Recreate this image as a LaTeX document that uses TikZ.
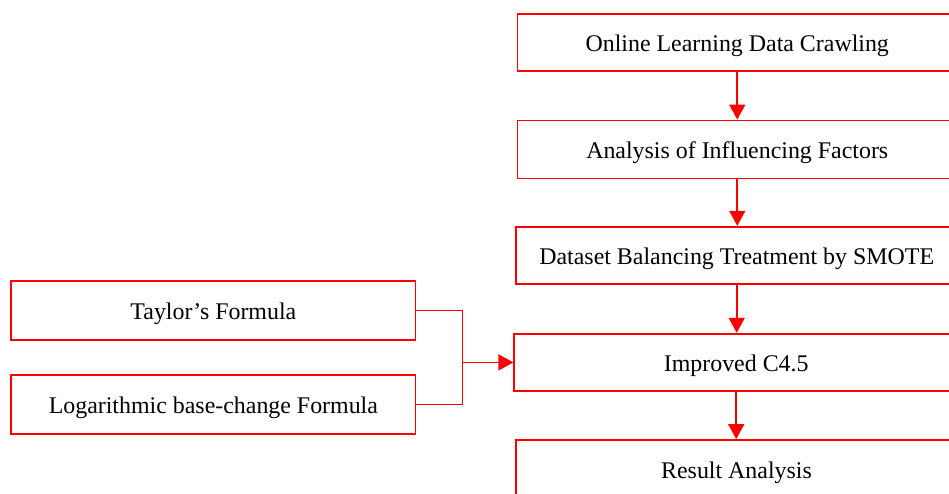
\documentclass[tikz,border=0pt]{standalone}
\usepackage{fontspec}
\setmainfont{Liberation Serif}
\usetikzlibrary{arrows.meta}
\begin{document}
\begin{tikzpicture}[x=1pt,y=-1pt,
  box/.style={draw=red, line width=1.8pt, fill=white, inner sep=0pt, anchor=center,
    text height=18.8pt, text depth=0pt,
    font=\fontsize{23.9}{28}\selectfont},
  conn/.style={draw=red, line width=1.6pt},
  arr/.style={conn, -{Triangle[width=16pt,length=15pt]}}]
\useasboundingbox (0,0) rectangle (949,494);
\begin{scope}
\clip (0,0) rectangle (949,494);
\node[box, minimum width=439.5pt, minimum height=57pt] (b1) at (737.25,42.5) {Online Learning Data Crawling};
\node[box, minimum width=439.5pt, minimum height=58pt] (b2) at (737.25,149.5) {Analysis of Influencing Factors};
\node[box, minimum width=442pt, minimum height=57.3pt] (b3) at (736.7,255.4) {Dataset Balancing Treatment by SMOTE};
\node[box, minimum width=443.8pt, minimum height=57.4pt] (b4) at (736.2,362.4) {Improved C4.5};
\node[box, minimum width=441.5pt, minimum height=58pt] (b5) at (736.5,469) {Result Analysis};
\node[box, minimum width=404.3pt, minimum height=59pt] (t) at (213.35,310.5) {Taylor’s Formula};
\node[box, minimum width=404.3pt, minimum height=58.6pt] (l) at (213.35,404.3) {Logarithmic base-change Formula};
\coordinate (j) at (462.5,362.4);
\draw[arr] (b1.south) -- (b1.south |- b2.north);
\draw[arr] (b2.south) -- (b2.south |- b3.north);
\draw[arr] (b3.south) -- (b3.south |- b4.north);
\draw[arr] (b4.south) -- (b4.south |- b5.north);
\draw[conn] (t.east) -| (j) |- (l.east);
\draw[arr] (j) -- (b4.west);
\end{scope}
\end{tikzpicture}
\end{document}
